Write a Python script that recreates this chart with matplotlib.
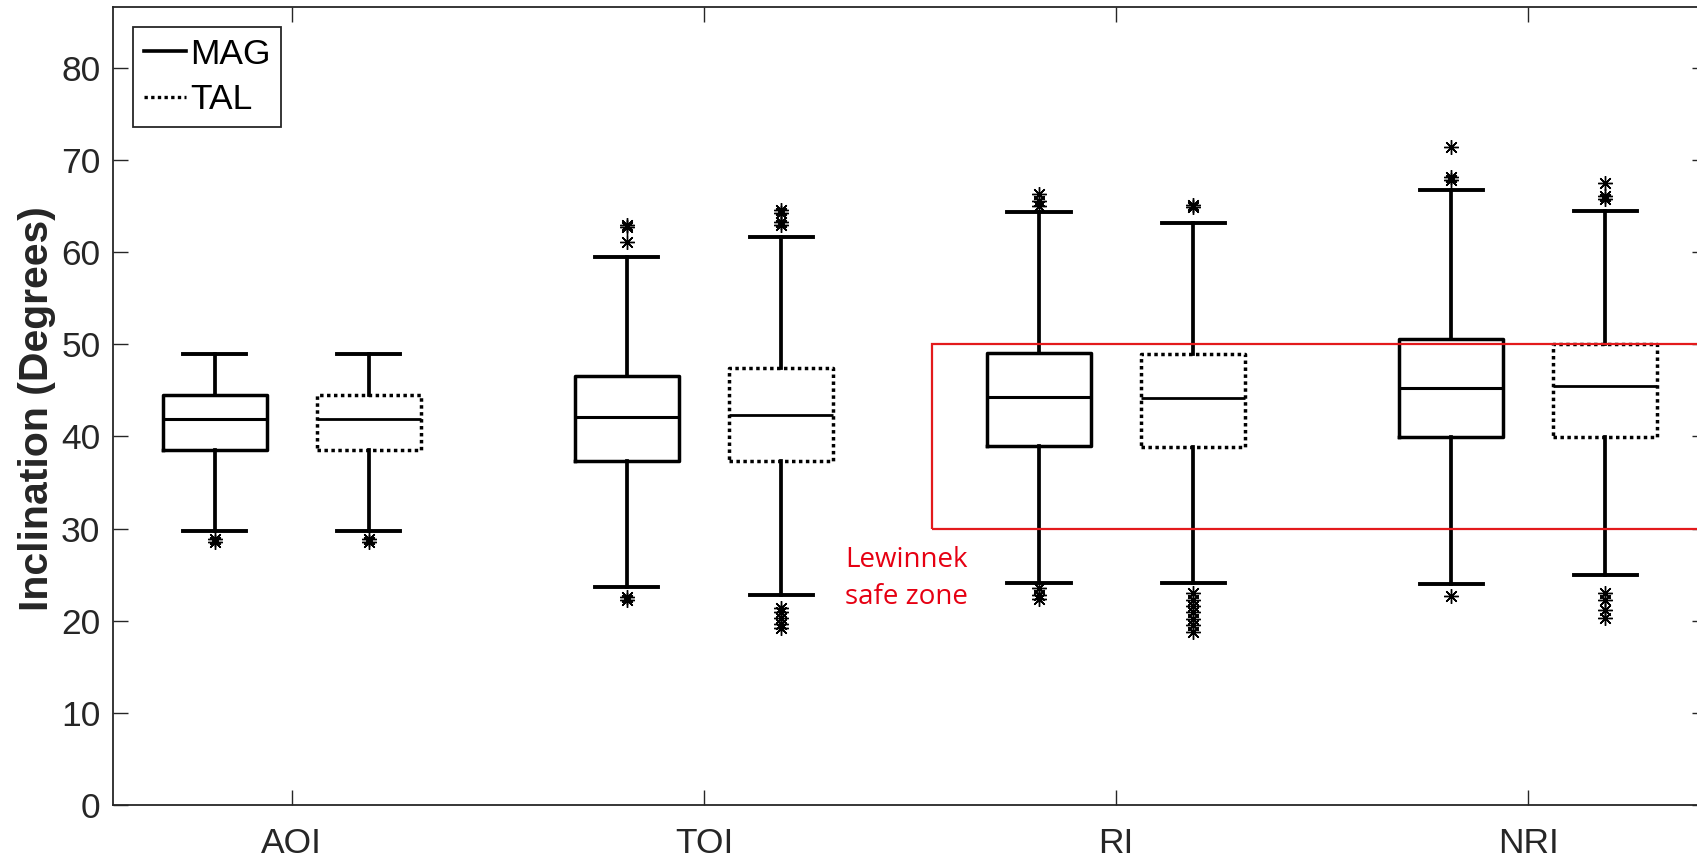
import matplotlib.pyplot as plt
from matplotlib.lines import Line2D
from matplotlib.patches import Rectangle

# groups on the x axis
groups = ["AOI", "TOI", "RI", "NRI"]

# MAG box statistics (degrees)
mag_lo = [29.7, 23.7, 24.1, 24.0]
mag_q1 = [38.5, 37.3, 39.0, 39.9]
mag_med = [41.9, 42.1, 44.3, 45.3]
mag_q3 = [44.5, 46.6, 49.1, 50.6]
mag_hi = [49.0, 59.5, 64.4, 66.8]
mag_out = [
    [28.6, 28.9],
    [22.2, 22.6, 61.1, 62.7, 63.0],
    [22.4, 22.8, 23.5, 65.0, 65.5, 66.3],
    [22.7, 67.8, 68.2, 71.4],
]

# TAL box statistics (degrees)
tal_lo = [29.7, 22.8, 24.1, 25.0]
tal_q1 = [38.5, 37.3, 38.9, 39.9]
tal_med = [41.9, 42.3, 44.2, 45.5]
tal_q3 = [44.5, 47.4, 48.9, 50.0]
tal_hi = [49.0, 61.7, 63.2, 64.5]
tal_out = [
    [28.6, 28.9],
    [19.2, 19.7, 20.3, 20.9, 21.4, 63.0, 63.3, 64.2, 64.6],
    [18.8, 19.5, 20.2, 20.9, 21.6, 22.3, 23.0, 64.9, 65.1],
    [20.3, 21.2, 22.2, 23.0, 65.8, 66.1, 67.5],
]

# Lewinnek safe zone (inclination range)
safe_lo, safe_hi = 30, 50


def make_stats(lo, q1, med, q3, hi, out):
    return [dict(whislo=a, q1=b, med=c, q3=d, whishi=e, fliers=f)
            for a, b, c, d, e, f in zip(lo, q1, med, q3, hi, out)]


plt.rcParams['font.family'] = ['Liberation Sans', 'DejaVu Sans']
dark = '#262626'

fig = plt.figure(figsize=(16.97, 8.61), dpi=100)
ax = fig.add_axes([0.0666, 0.065, 0.9393, 0.9268])

xs = list(range(1, len(groups) + 1))
off, w, cw = 0.187, 0.252, 0.153
flier = dict(marker=(8, 2, 0), markersize=10.5, markeredgecolor='black',
             markeredgewidth=1.0, linestyle='none')
common = dict(widths=w, capwidths=cw, showfliers=True, flierprops=flier,
              whiskerprops=dict(color='black', lw=2.7),
              capprops=dict(color='black', lw=2.8),
              manage_ticks=False)

ax.bxp(make_stats(mag_lo, mag_q1, mag_med, mag_q3, mag_hi, mag_out),
       positions=[x - off for x in xs],
       boxprops=dict(color='black', lw=2.5, linestyle='-'),
       medianprops=dict(color='black', lw=2.2), **common)
ax.bxp(make_stats(tal_lo, tal_q1, tal_med, tal_q3, tal_hi, tal_out),
       positions=[x + off for x in xs],
       boxprops=dict(color='black', lw=2.5, linestyle=(0, (1, 1))),
       medianprops=dict(color='black', lw=2.0), **common)

# safe zone box
red = '#e31a1c'
ax.add_patch(Rectangle((2.553, safe_lo), 4.0, safe_hi - safe_lo, fill=False,
                       edgecolor=red, lw=1.6, zorder=5, clip_on=True))
ax.text(2.342, 24.6, "Lewinnek\nsafe zone", color='#e60012', fontsize=20,
        family=['Open Sans', 'DejaVu Sans'], ha='left', va='center',
        linespacing=1.45)

ax.set_xlim(0.566, 4.434)
ax.set_ylim(0, 86.6)
ax.set_xticks(xs)
ax.set_xticklabels(groups)
ax.set_yticks(range(0, 81, 10))
ax.tick_params(direction='in', top=True, right=True, length=11, width=1.0,
               colors=dark, labelsize=25.5)
ax.tick_params(axis='x', pad=16)
ax.tick_params(axis='y', pad=9)
for s in ax.spines.values():
    s.set_color(dark)
    s.set_linewidth(1.3)

ax.set_ylabel("Inclination (Degrees)", fontsize=29.5, fontweight='bold', color=dark)
ax.yaxis.set_label_coords(-0.036, 0.497)

handles = [Line2D([], [], color='black', lw=2.6, linestyle='-'),
           Line2D([], [], color='black', lw=2.4, linestyle=(0, (1, 1)))]
leg = ax.legend(handles, ["MAG", "TAL"], loc='upper left',
                bbox_to_anchor=(0.0125, 0.975), borderaxespad=0,
                fontsize=25.5, handlelength=1.2, handletextpad=0.12,
                borderpad=0.3, labelspacing=0.35, fancybox=False,
                framealpha=1, edgecolor=dark)
leg.get_frame().set_linewidth(1.3)

fig.savefig("out.png", dpi=100)
plt.close(fig)
